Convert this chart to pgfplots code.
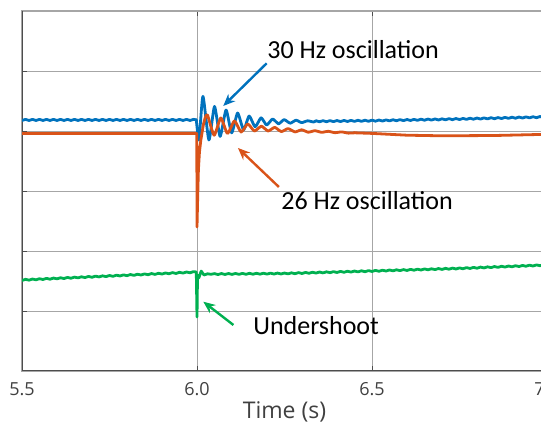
\documentclass[border=0pt]{standalone}
\usepackage{pgfplots}
\pgfplotsset{compat=1.18}
\usepackage{fontspec}
\setmainfont{Open Sans}
\newfontfamily\notefont{Carlito}
\usetikzlibrary{arrows.meta}

\definecolor{mblue}{HTML}{0072BD}
\definecolor{morange}{HTML}{D95319}
\definecolor{mgreen}{HTML}{00B050}
\definecolor{gridgray}{HTML}{A6A6A6}
\definecolor{axisgray}{HTML}{4D4D4D}
\definecolor{labelgray}{HTML}{404040}

\begin{document}
\begin{tikzpicture}
\begin{axis}[
  at={(0,0)}, anchor=south west,
  scale only axis,
  width=262.5pt, height=180pt,
  xmin=5.5, xmax=7, ymin=0, ymax=6,
  xtick={5.5,6,6.5,7},
  ytick={0,1,2,3,4,5,6},
  yticklabels={},
  xticklabel style={anchor=base, yshift=-12.5pt, font=\fontsize{9}{10}\selectfont, text=labelgray,
    /pgf/number format/fixed, /pgf/number format/fixed zerofill, /pgf/number format/precision=1},
  /pgf/number format/assume math mode=true,
  xlabel={Time (s)},
  xlabel style={at={(axis description cs:0.5,0)}, anchor=base, yshift=-23.5pt, inner sep=0pt,
    text=labelgray, font=\fontsize{11.5}{13}\selectfont},
  tick align=inside,
  major tick length=2.5pt,
  tick style={axisgray, line width=0.5pt},
  grid=major,
  major grid style={gridgray, line width=0.5pt},
  axis line style={gridgray, line width=0.6pt},
  every axis plot/.append style={line width=1.4pt, line join=round, line cap=round},
]
% left and bottom axis lines in a darker tone
\draw[axisgray, line width=0.7pt] (rel axis cs:0,1) -- (rel axis cs:0,0) -- (rel axis cs:1,0);

% ---- blue signal: 30 Hz ringing after the event at t = 6 s
\addplot[mblue] coordinates {
  (5.50,4.176) (5.51,4.194) (5.52,4.176) (5.53,4.194) (5.54,4.176) (5.55,4.194)
  (5.56,4.176) (5.57,4.194) (5.58,4.176) (5.59,4.194) (5.60,4.176) (5.61,4.194)
  (5.62,4.176) (5.63,4.194) (5.64,4.176) (5.65,4.194) (5.66,4.176) (5.67,4.194)
  (5.68,4.176) (5.69,4.194) (5.70,4.176) (5.71,4.194) (5.72,4.176) (5.73,4.194)
  (5.74,4.176) (5.75,4.194) (5.76,4.176) (5.77,4.194) (5.78,4.176) (5.79,4.194)
  (5.80,4.176) (5.81,4.194) (5.82,4.176) (5.83,4.194) (5.84,4.176) (5.85,4.194)
  (5.86,4.176) (5.87,4.194) (5.88,4.176) (5.89,4.194) (5.90,4.176) (5.91,4.194)
  (5.92,4.176) (5.93,4.194) (5.94,4.176) (5.95,4.194) (5.96,4.176) (5.97,4.194)
  (5.98,4.176) (5.99,4.194) (5.998,4.186)
};
\addplot[mblue, smooth, tension=0.35] coordinates {
  (5.998,4.186) (6.001,4.02) (6.006,3.85)
  (6.017,4.578) (6.034,3.85) (6.050,4.41) (6.066,3.91)
  (6.083,4.35) (6.099,3.97) (6.116,4.30) (6.133,4.02)
  (6.149,4.25) (6.166,4.07) (6.183,4.22) (6.199,4.10)
  (6.216,4.20) (6.233,4.12) (6.249,4.19) (6.266,4.13)
  (6.283,4.18) (6.299,4.14) (6.316,4.17) (6.333,4.15) (6.34,4.171)
};
\addplot[mblue] coordinates {
  (6.34,4.171) (6.35,4.154) (6.36,4.172) (6.37,4.155) (6.38,4.173) (6.39,4.156)
  (6.40,4.175) (6.41,4.157) (6.42,4.176) (6.43,4.159) (6.44,4.177) (6.45,4.160)
  (6.46,4.179) (6.47,4.161) (6.48,4.180) (6.49,4.162) (6.50,4.181) (6.51,4.164)
  (6.52,4.183) (6.53,4.166) (6.54,4.185) (6.55,4.169) (6.56,4.188) (6.57,4.171)
  (6.58,4.190) (6.59,4.173) (6.60,4.192) (6.61,4.175) (6.62,4.194) (6.63,4.178)
  (6.64,4.197) (6.65,4.180) (6.66,4.199) (6.67,4.182) (6.68,4.201) (6.69,4.184)
  (6.70,4.203) (6.71,4.187) (6.72,4.206) (6.73,4.189) (6.74,4.208) (6.75,4.191)
  (6.76,4.210) (6.77,4.194) (6.78,4.213) (6.79,4.197) (6.80,4.216) (6.81,4.199)
  (6.82,4.219) (6.83,4.202) (6.84,4.222) (6.85,4.205) (6.86,4.224) (6.87,4.208)
  (6.88,4.227) (6.89,4.211) (6.90,4.230) (6.91,4.213) (6.92,4.233) (6.93,4.216)
  (6.94,4.236) (6.95,4.219) (6.96,4.238) (6.97,4.222) (6.98,4.241) (6.99,4.225)
  (7.00,4.244)
};

% ---- orange signal: deep dip, then 26 Hz ringing
\addplot[morange] coordinates {
  (5.5,3.96) (5.9995,3.96) (6.0,2.4) (6.002,2.9) (6.004,3.35)
  (6.007,3.65) (6.011,3.85) (6.018,4.10)
};
\addplot[morange, smooth, tension=0.35] coordinates {
  (6.018,4.10) (6.024,4.23)
  (6.030,4.267) (6.049,3.93) (6.068,4.217) (6.087,3.96)
  (6.107,4.167) (6.126,3.983) (6.145,4.117) (6.164,4.0)
  (6.184,4.08) (6.203,4.0) (6.222,4.06) (6.241,3.99)
  (6.260,4.04) (6.280,3.985) (6.299,4.02) (6.318,3.98)
  (6.337,4.005) (6.356,3.978) (6.375,3.995) (6.394,3.972)
  (6.413,3.985) (6.432,3.965) (6.45,3.97)
};
\addplot[morange] coordinates {
  (6.45,3.97) (6.5,3.96) (6.55,3.945) (6.6,3.93) (6.7,3.92)
  (6.85,3.925) (7.0,3.945)
};

% ---- green signal: short undershoot at t = 6 s
\addplot[mgreen] coordinates {
  (5.50,1.509) (5.51,1.528) (5.52,1.514) (5.53,1.533) (5.54,1.520) (5.55,1.538)
  (5.56,1.525) (5.57,1.544) (5.58,1.530) (5.59,1.549) (5.60,1.536) (5.61,1.554)
  (5.62,1.541) (5.63,1.560) (5.64,1.546) (5.65,1.565) (5.66,1.552) (5.67,1.570)
  (5.68,1.557) (5.69,1.576) (5.70,1.562) (5.71,1.581) (5.72,1.568) (5.73,1.586)
  (5.74,1.573) (5.75,1.592) (5.76,1.578) (5.77,1.597) (5.78,1.584) (5.79,1.602)
  (5.80,1.589) (5.81,1.608) (5.82,1.594) (5.83,1.613) (5.84,1.600) (5.85,1.618)
  (5.86,1.605) (5.87,1.624) (5.88,1.610) (5.89,1.629) (5.90,1.616) (5.91,1.634)
  (5.92,1.621) (5.93,1.640) (5.94,1.626) (5.95,1.645) (5.96,1.632) (5.97,1.650)
  (5.98,1.637) (5.99,1.656) (5.998,1.650)
  (6.0,0.9) (6.0015,1.60) (6.005,1.55)
  (6.012,1.665) (6.020,1.60) (6.030,1.62) (6.040,1.612)
  (6.05,1.623) (6.06,1.608) (6.07,1.624) (6.08,1.609) (6.09,1.625) (6.10,1.610)
  (6.11,1.626) (6.12,1.611) (6.13,1.627) (6.14,1.612) (6.15,1.628) (6.16,1.613)
  (6.17,1.629) (6.18,1.614) (6.19,1.630) (6.20,1.615) (6.21,1.631) (6.22,1.616)
  (6.23,1.632) (6.24,1.617) (6.25,1.633) (6.26,1.619) (6.27,1.636) (6.28,1.622)
  (6.29,1.640) (6.30,1.625) (6.31,1.643) (6.32,1.629) (6.33,1.646) (6.34,1.632)
  (6.35,1.650) (6.36,1.635) (6.37,1.653) (6.38,1.639) (6.39,1.656) (6.40,1.642)
  (6.41,1.660) (6.42,1.645) (6.43,1.663) (6.44,1.649) (6.45,1.666) (6.46,1.652)
  (6.47,1.670) (6.48,1.655) (6.49,1.673) (6.50,1.659) (6.51,1.677) (6.52,1.662)
  (6.53,1.680) (6.54,1.666) (6.55,1.684) (6.56,1.669) (6.57,1.687) (6.58,1.673)
  (6.59,1.690) (6.60,1.676) (6.61,1.694) (6.62,1.680) (6.63,1.697) (6.64,1.683)
  (6.65,1.701) (6.66,1.687) (6.67,1.704) (6.68,1.690) (6.69,1.708) (6.70,1.693)
  (6.71,1.711) (6.72,1.697) (6.73,1.715) (6.74,1.700) (6.75,1.718) (6.76,1.704)
  (6.77,1.723) (6.78,1.709) (6.79,1.727) (6.80,1.713) (6.81,1.732) (6.82,1.718)
  (6.83,1.736) (6.84,1.723) (6.85,1.741) (6.86,1.727) (6.87,1.746) (6.88,1.732)
  (6.89,1.750) (6.90,1.736) (6.91,1.755) (6.92,1.741) (6.93,1.759) (6.94,1.746)
  (6.95,1.764) (6.96,1.750) (6.97,1.768) (6.98,1.755) (6.99,1.773) (7.00,1.759)
};

% ---- annotations
\node[anchor=west, inner sep=0pt, font=\notefont\fontsize{13}{15}\selectfont] at (axis cs:6.2,5.35) {30 Hz oscillation};
\draw[mblue, line width=1.2pt, -{Stealth[length=6pt, width=5pt]}] (axis cs:6.199,5.128) -- (axis cs:6.075,4.417);

\node[anchor=west, inner sep=0pt, font=\notefont\fontsize{13}{15}\selectfont] at (axis cs:6.24,2.833) {26 Hz oscillation};
\draw[morange, line width=1.2pt, -{Stealth[length=6pt, width=5pt]}] (axis cs:6.234,3.067) -- (axis cs:6.117,3.717);

\node[anchor=west, inner sep=0pt, font=\notefont\fontsize{13}{15}\selectfont] at (axis cs:6.16,0.75) {Undershoot};
\draw[mgreen, line width=1.2pt, -{Stealth[length=6pt, width=5pt]}] (axis cs:6.104,0.767) -- (axis cs:6.018,1.155);
\end{axis}
\pgfresetboundingbox
\path[use as bounding box] (-11pt,-26pt) rectangle (259.5pt,185.5pt);
\end{tikzpicture}
\end{document}
